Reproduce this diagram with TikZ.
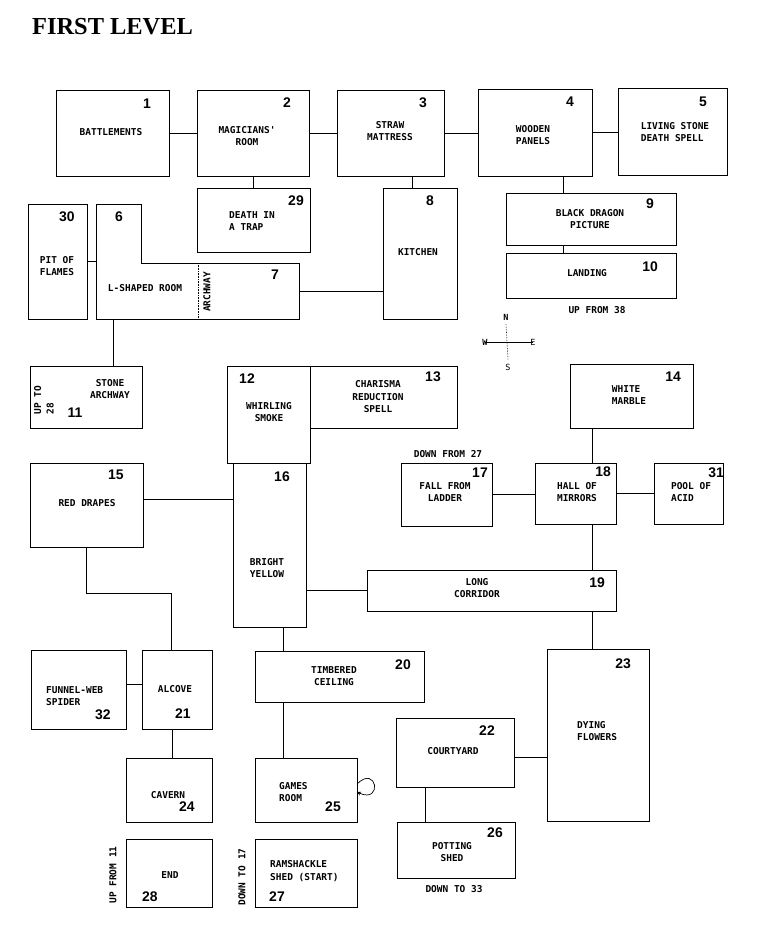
\documentclass[tikz,border=0pt]{standalone}
\usepackage{fontspec}
\setmainfont{Liberation Serif}
\newfontfamily\dotfont{DejaVu Sans Mono}
\newfontfamily\numfont{Liberation Sans}
\usetikzlibrary{calc,arrows.meta}
\newcommand\mkroom[5]{\node[room, minimum width=#4bp, minimum height=#5bp] (#1) at (#2,#3) {};}
\begin{document}
\begin{tikzpicture}[x=1bp,y=-1bp,
  room/.style={draw, line width=0.9bp, anchor=north west, inner sep=0pt, outer sep=0pt},
  lbl/.style={font=\dotfont\bfseries\fontsize{9.5}{12.5}\selectfont, align=center, inner sep=0pt},
  num/.style={font=\numfont\bfseries\fontsize{14}{14}\selectfont, inner sep=0pt},
  link/.style={line width=0.9bp}]
\useasboundingbox[fill=white] (0,0) rectangle (760,925);

\node[anchor=base west, inner sep=0pt, font=\bfseries\fontsize{24.5}{24.5}\selectfont] (title) at (32,34) {FIRST LEVEL};

% rooms
\mkroom{r1}{56}{90}{113}{86}
\mkroom{r2}{197}{90}{112}{86}
\mkroom{r3}{337}{90}{107}{86}
\mkroom{r4}{478}{89}{114}{87}
\mkroom{r5}{618}{88}{109}{87}
\mkroom{r29}{197}{188}{113}{64}
\mkroom{r8}{383}{188}{74}{131}
\mkroom{r9}{506}{193}{170}{52}
\mkroom{r10}{506}{253}{170}{45}
\mkroom{r30}{28}{204}{59}{115}
\mkroom{r11}{30}{366}{112}{62}
\mkroom{r12}{227}{366}{83}{97}
\mkroom{r13}{310}{366}{147}{62}
\mkroom{r14}{570}{364}{123}{64}
\mkroom{r15}{30}{463}{113}{84}
\mkroom{r16}{233}{463}{73}{164}
\mkroom{r17}{401}{463}{91}{63}
\mkroom{r18}{535}{463}{81}{61}
\mkroom{r31}{654}{463}{69}{61}
\mkroom{r19}{367}{570}{249}{41}
\mkroom{r32}{31}{650}{95}{79}
\mkroom{r21}{142}{650}{70}{79}
\mkroom{r20}{255}{651}{169}{51}
\mkroom{r23}{547}{649}{102}{172}
\mkroom{r22}{396}{718}{118}{69}
\mkroom{r24}{126}{758}{86}{64}
\mkroom{r25}{255}{758}{102}{64}
\mkroom{r26}{397}{822}{118}{56}
\mkroom{r28}{126}{839}{86}{68}
\mkroom{r27}{255}{839}{102}{68}

% L-shaped room (6) with archway (7)
\coordinate (l6a) at (96,204);
\coordinate (l6b) at (141,204);
\coordinate (l6c) at (141,263);
\coordinate (l6d) at (299,263);
\coordinate (l6e) at (299,319);
\coordinate (l6f) at (96,319);
\coordinate (l6w) at (96,262);
\coordinate (l6s) at (113,319);
\coordinate (l7e) at (299,291);
\coordinate (arA) at (198,263);
\coordinate (arB) at (198,319);
\draw[link] (l6a) -- (l6b) -- (l6c) -- (l6d) -- (l6e) -- (l6f) -- cycle;
\draw[line width=0.6bp, densely dotted] (arA) -- (arB);

% connectors
\draw[link] (r1.east) -- (r2.west);
\draw[link] (r2.east) -- (r3.west);
\draw[link] (r3.east) -- (r3.east -| r4.west);
\draw[link] (r4.east) -- (r4.east -| r5.west);
\draw[link] (r2.south) -- (r2.south |- r29.north);
\coordinate (k8) at ($(r8.north west)+(29,0)$);
\draw[link] (k8) -- (k8 |- r3.south);
\coordinate (k9) at ($(r9.north west)+(57,0)$);
\draw[link] (k9) -- (k9 |- r4.south);
\draw[link] (k9 |- r9.south) -- (k9 |- r10.north);
\draw[link] (r30.east) -- (r30.east -| l6w);
\draw[link] (l6s) -- (l6s |- r11.north);
\draw[link] (l7e) -- (l7e -| r8.west);
\draw[link] ($(r13.north east)+(0,28)$) -- ($(r13.north east)+(0,28)$ -| r14.west);
\coordinate (k18) at ($(r18.north west)+(57,0)$);
\draw[link] (k18) -- (k18 |- r14.south);
\draw[link] (k18 |- r18.south) -- (k18 |- r19.north);
\draw[link] (k18 |- r19.south) -- (k18 |- r23.north);
\draw[link] (r17.east) -- (r17.east -| r18.west);
\draw[link] (r18.east) -- (r18.east -| r31.west);
\coordinate (k15) at ($(r15.north east)+(0,36)$);
\draw[link] (k15) -- (k15 -| r16.west);
\draw[link] (r19.west) -- (r19.west -| r16.east);
\coordinate (k21) at ($(r21.north west)+(29,0)$);
\coordinate (b15) at (171,593);
\draw[link] (r15.south) |- (b15) -- (k21);
\coordinate (k20) at ($(r20.north west)+(28,0)$);
\draw[link] (k20) -- (k20 |- r16.south);
\draw[link] (k20 |- r20.south) -- (k20 |- r25.north);
\coordinate (k32) at ($(r32.north east)+(0,34)$);
\draw[link] (k32) -- (k32 -| r21.west);
\coordinate (k24) at ($(r24.north west)+(46,0)$);
\draw[link] (k24) -- (k24 |- r21.south);
\coordinate (k22) at ($(r22.north east)+(0,39)$);
\draw[link] (k22) -- (k22 -| r23.west);
\coordinate (k26) at ($(r26.north west)+(28,0)$);
\draw[link] (k26) -- (k26 |- r22.south);
% self loop on games room
\coordinate (g1) at ($(r25.east)+(0,-6)$);
\coordinate (g2) at ($(r25.east)+(0,2)$);
\draw[line width=0.7bp, -{Stealth[length=4bp,width=4bp]}] (g1) .. controls +(20,-20) and +(26,12) .. (g2);

% numbers
\node[num] (n1) at (147,104) {1};
\node[num] (n2) at (287,103) {2};
\node[num] (n3) at (423,103) {3};
\node[num] (n4) at (570,102) {4};
\node[num] (n5) at (703,102) {5};
\node[num] (n29) at (296,201) {29};
\node[num] (n8) at (430,201) {8};
\node[num] (n9) at (650,204) {9};
\node[num] (n10) at (650,267) {10};
\node[num] (n30) at (67,217) {30};
\node[num] (n6) at (119,217) {6};
\node[num] (n7) at (275,275) {7};
\node[num] (n11) at (75,413) {11};
\node[num] (n12) at (247,379) {12};
\node[num] (n13) at (433,377) {13};
\node[num] (n14) at (673,377) {14};
\node[num] (n15) at (116,475) {15};
\node[num] (n16) at (282,477) {16};
\node[num] (n17) at (480,473) {17};
\node[num] (n18) at (603,472) {18};
\node[num] (n31) at (716,473) {31};
\node[num] (n19) at (597,583) {19};
\node[num] (n32) at (103,715) {32};
\node[num] (n21) at (183,714) {21};
\node[num] (n24) at (187,807) {24};
\node[num] (n28) at (150,897) {28};
\node[num] (n25) at (333,807) {25};
\node[num] (n27) at (277,897) {27};
\node[num] (n20) at (403,665) {20};
\node[num] (n22) at (487,731) {22};
\node[num] (n23) at (623,664) {23};
\node[num] (n26) at (495,833) {26};

% texts
\node[lbl] (t1) at (111,132) {BATTLEMENTS};
\node[lbl] (t2) at (247,136) {MAGICIANS'\\ROOM};
\node[lbl] (t3) at (390,131) {STRAW\\MATTRESS};
\node[lbl] (t4) at (533,135) {WOODEN\\PANELS};
\node[lbl, align=left] (t5) at (675,132) {LIVING STONE\\DEATH SPELL};
\node[lbl, align=left] (t29) at (252,221) {DEATH IN\\A TRAP};
\node[lbl] (t8) at (418,252) {KITCHEN};
\node[lbl] (t9) at (590,219) {BLACK DRAGON\\PICTURE};
\node[lbl] (t10) at (587,273) {LANDING};
\node[lbl] (u38) at (597,310) {UP FROM 38};
\node[lbl, align=left] (t30) at (57,266) {PIT OF\\FLAMES};
\node[lbl] (t6) at (145,288) {L-SHAPED ROOM};
\node[lbl, rotate=90] (t7) at (207,292) {ARCHWAY};
\node[lbl] (t11) at (110,389) {STONE\\ARCHWAY};
\node[lbl, rotate=90, align=left] (u28) at (44,400) {UP TO\\28};
\node[lbl] (t12) at (269,412) {WHIRLING\\SMOKE};
\node[lbl] (t13) at (378,397) {CHARISMA\\REDUCTION\\SPELL};
\node[lbl, align=left] (t14) at (629,395) {WHITE\\MARBLE};
\node[lbl] (d27) at (448,454) {DOWN FROM 27};
\node[lbl] (t17) at (445,492) {FALL FROM\\LADDER};
\node[lbl] (t18) at (577,492) {HALL OF\\MIRRORS};
\node[lbl, align=left] (t31) at (691,492) {POOL OF\\ACID};
\node[lbl] (t19) at (477,588) {LONG\\CORRIDOR};
\node[lbl] (t15) at (87,503) {RED DRAPES};
\node[lbl] (t16) at (267,568) {BRIGHT\\YELLOW};
\node[lbl, align=left, anchor=west] (t32) at (46,696) {FUNNEL-WEB\\SPIDER};
\node[lbl] (t21) at (175,689) {ALCOVE};
\node[lbl] (t24) at (168,795) {CAVERN};
\node[lbl] (t28) at (170,875) {END};
\node[lbl, rotate=90] (u11) at (113,875) {UP FROM 11};
\node[lbl] (t20) at (334,676) {TIMBERED\\CEILING};
\node[lbl, align=left, anchor=west] (t25) at (279,792) {GAMES\\ROOM};
\node[lbl, align=left, anchor=west] (t27) at (270,871) {RAMSHACKLE\\SHED (START)};
\node[lbl, rotate=90] (d17) at (242,877) {DOWN TO 17};
\node[lbl] (t22) at (453,751) {COURTYARD};
\node[lbl, align=left, anchor=west] (t23) at (577,731) {DYING\\FLOWERS};
\node[lbl] (t26) at (452,852) {POTTING\\ SHED};
\node[lbl] (d33) at (454,889) {DOWN TO 33};

% compass
\node[lbl, font=\dotfont\bfseries\fontsize{8.5}{9}\selectfont] (cN) at (506,317) {N};
\node[lbl, font=\dotfont\fontsize{8.5}{9}\selectfont] (cS) at (508,367) {S};
\node[lbl, font=\dotfont\bfseries\fontsize{8.5}{9}\selectfont] (cW) at (485,342) {W};
\node[lbl, font=\dotfont\fontsize{8.5}{9}\selectfont] (cE) at (533,342) {E};
\draw[line width=0.6bp] ([xshift=-3bp]cW.east) -- ([xshift=3bp]cE.west);
\draw[line width=0.6bp, densely dotted] ([yshift=-4bp]cN.south) -- ([yshift=4bp]cS.north);
\end{tikzpicture}
\end{document}
